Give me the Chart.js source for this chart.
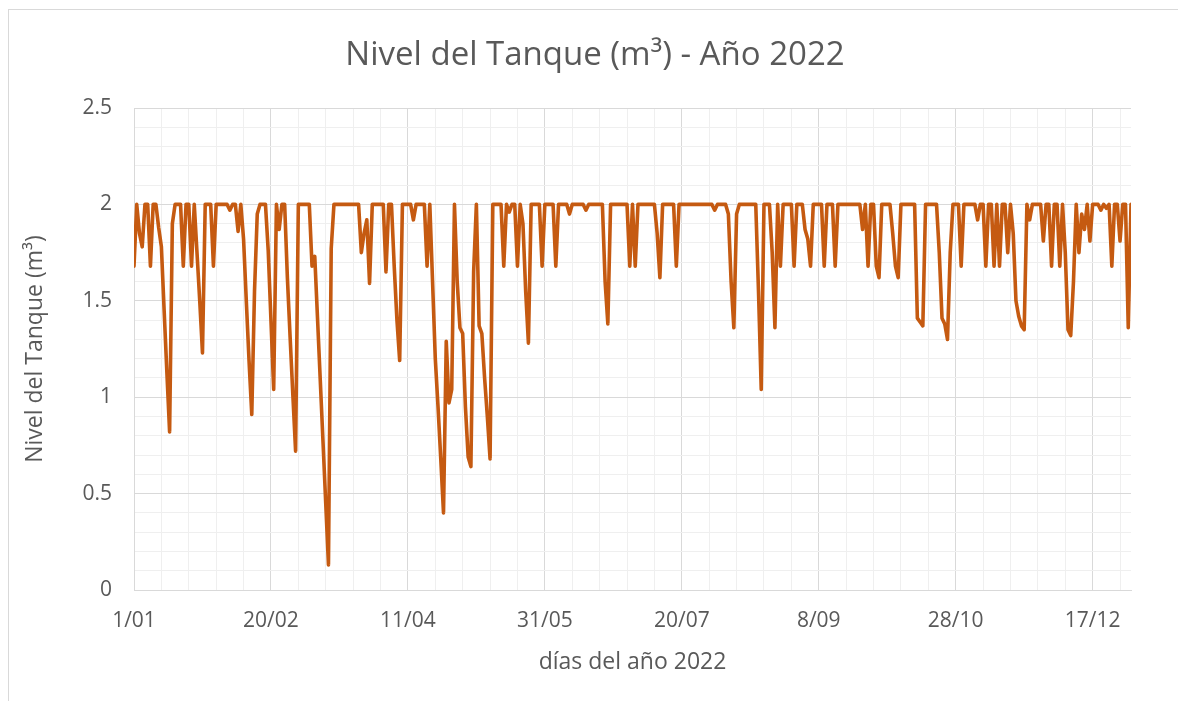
<!DOCTYPE html>
<html><head><meta charset="utf-8">
<script src="https://cdn.jsdelivr.net/npm/chart.js@4.4.1/dist/chart.umd.min.js"></script>
<style>
html,body{margin:0;padding:0;background:#fff;overflow:hidden;width:1178px;height:701px}
#frame{position:absolute;left:8px;top:9px;width:1200px;height:720px;border:1px solid #d9d9d9;box-sizing:border-box}
canvas{position:absolute;left:0;top:0}
</style></head><body>
<div id="frame"></div>
<canvas id="c" width="1178" height="701"></canvas>
<script>
const chartTitle = 'Nivel del Tanque (m³) - Año 2022';
const xAxisTitle = 'días del año 2022';
const yAxisTitle = 'Nivel del Tanque (m³)';
const xTickLabels = ['1/01','20/02','11/04','31/05','20/07','8/09','28/10','17/12'];
const yTickLabels = ['0','0.5','1','1.5','2','2.5'];
// daily tank level, day 0 = 1/01/2022
const nivel = [
 1.68,2,1.85,1.78,2,2,1.68,2,2,1.88,
 1.78,1.45,1.13,0.82,1.9,2,2,2,1.68,2,
 2,1.68,2,1.75,1.5,1.23,2,2,2,1.68,
 2,2,2,2,2,1.97,2,2,1.86,2,
 1.82,1.5,1.19,0.91,1.55,1.95,2,2,2,1.76,
 1.40,1.04,2,1.87,2,2,1.62,1.31,1.01,0.72,
 2,2,2,2,2,1.68,1.73,1.41,1.09,0.77,
 0.45,0.13,1.77,2,2,2,2,2,2,2,
 2,2,2,1.75,1.85,1.92,1.59,2,2,2,
 2,2,1.65,2,2,1.68,1.40,1.19,2,2,
 2,2,1.92,2,2,2,2,1.68,2,1.6,
 1.2,0.95,0.68,0.40,1.29,0.97,1.04,2,1.6,1.36,
 1.33,0.95,0.69,0.64,1.65,2,1.37,1.33,1.1,0.9,
 0.68,2,2,2,2,1.68,2,1.96,2,2,
 1.68,2,1.9,1.55,1.28,2,2,2,2,1.68,
 2,2,2,2,1.68,2,2,2,2,1.95,
 2,2,2,2,2,1.97,2,2,2,2,
 2,2,1.6,1.38,2,2,2,2,2,2,
 2,1.68,2,1.68,2,2,2,2,2,2,
 2,1.85,1.62,2,2,2,2,2,1.68,2,
 2,2,2,2,2,2,2,2,2,2,
 2,2,1.97,2,2,2,2,1.95,1.6,1.36,
 1.95,2,2,2,2,2,2,2,1.55,1.04,
 2,2,2,1.75,1.36,2,1.68,2,2,2,
 2,1.68,2,2,2,1.87,1.82,1.68,2,2,
 2,2,1.68,2,2,2,1.68,2,2,2,
 2,2,2,2,2,2,1.87,2,1.68,2,
 2,1.68,1.62,2,2,2,2,1.85,1.68,1.62,
 2,2,2,2,2,2,1.41,1.39,1.37,2,
 2,2,2,2,1.75,1.41,1.38,1.30,1.75,2,
 2,2,1.68,2,2,2,2,2,1.92,2,
 2,1.68,2,2,1.68,2,1.68,2,2,1.75,
 2,1.85,1.5,1.42,1.37,1.35,2,1.92,2,2,
 2,2,1.81,2,2,1.68,2,2,1.68,2,
 1.75,1.35,1.32,1.6,2,1.75,1.95,1.87,2,1.81,
 2,2,2,1.97,2,1.98,2,1.68,2,2,
 1.81,2,2,1.36,2
];
const dias = nivel.map((v, i) => i);

const FONT = '"Open Sans", "DejaVu Sans", sans-serif';
const TXT = '#595959';

const titlePlugin = {
  id: 'customTitle',
  afterDraw(chart) {
    const ctx = chart.ctx;
    ctx.save();
    ctx.font = '33px ' + FONT;
    ctx.fillStyle = TXT;
    ctx.textAlign = 'center';
    ctx.textBaseline = 'middle';
    ctx.fillText(chartTitle, 595, 56);
    ctx.restore();
  }
};

const isMajorY = v => Math.abs(Math.round(v * 10)) % 5 === 0;

new Chart(document.getElementById('c'), {
  type: 'line',
  data: {
    datasets: [{
      data: dias.map((d, i) => ({x: d, y: nivel[i]})),
      borderColor: '#C55A11',
      borderWidth: 3.6,
      borderJoinStyle: 'round',
      borderCapStyle: 'round',
      pointRadius: 0,
      tension: 0,
      fill: false
    }]
  },
  options: {
    responsive: false,
    animation: false,
    layout: {padding: {left: 0, top: 108, right: 47, bottom: 0}},
    plugins: {legend: {display: false}, tooltip: {enabled: false}, title: {display: false}},
    scales: {
      x: {
        type: 'linear',
        min: 0, max: dias.length - 1,
        afterBuildTicks: s => { const t = []; for (let v = 0; v <= 360; v += 10) t.push({value: v}); s.ticks = t; },
        afterFit: s => { s.height = 111; },
        grid: {drawTicks: false, color: c => (c.tick && c.tick.value % 50 === 0) ? '#d9d9d9' : '#efefef', lineWidth: 1},
        border: {display: true, color: '#d9d9d9'},
        ticks: {
          autoSkip: false, maxRotation: 0, minRotation: 0, padding: 18,
          color: TXT, font: {family: FONT, size: 21},
          callback: v => (v % 50 === 0 ? xTickLabels[v / 50] : '')
        },
        title: {display: true, text: xAxisTitle, color: TXT, font: {family: FONT, size: 23}, padding: {top: 0, bottom: 25}}
      },
      y: {
        min: 0, max: 2.5,
        afterBuildTicks: s => { const t = []; for (let k = 0; k <= 25; k++) t.push({value: k / 10}); s.ticks = t; },
        afterFit: s => { s.width = 134; },
        grid: {drawTicks: false, color: c => (c.tick && isMajorY(c.tick.value)) ? '#d9d9d9' : '#efefef', lineWidth: 1},
        border: {display: true, color: '#d9d9d9'},
        ticks: {
          autoSkip: false, padding: 22,
          color: TXT, font: {family: FONT, size: 21},
          callback: v => (isMajorY(v) ? yTickLabels[Math.round(v * 2)] : '')
        },
        title: {display: true, text: yAxisTitle, color: TXT, font: {family: FONT, size: 23}, padding: {top: 22, bottom: 0}}
      }
    }
  },
  plugins: [titlePlugin]
});
</script>
</body></html>
